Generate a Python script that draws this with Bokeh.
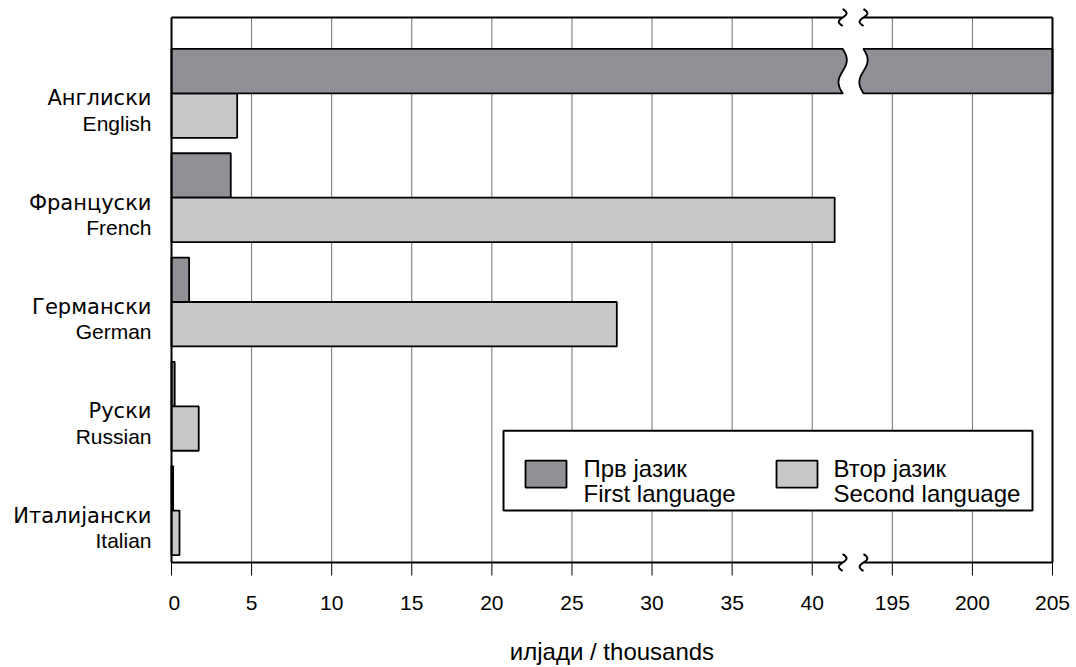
import numpy as np
from bokeh.plotting import figure
from bokeh.layouts import row
from bokeh.models import Range1d, FixedTicker
from bokeh.embed import file_html
from bokeh.resources import INLINE
from bokeh.core.properties import value

# ---------------- data ----------------
languages_mk = ["Англиски", "Француски", "Германски", "Руски", "Италијански"]
languages_en = ["English", "French", "German", "Russian", "Italian"]
first_language = [205, 3.7, 1.1, 0.2, 0.1]      # thousands
second_language = [4.1, 41.4, 27.8, 1.7, 0.5]   # thousands
tick_values = [0, 5, 10, 15, 20, 25, 30, 35, 40, 195, 200, 205]
legend_mk = ["Прв јазик", "Втор јазик"]
legend_en = ["First language", "Second language"]
axis_title = "илјади / thousands"

# ---------------- broken axis ----------------
BREAK_AT = 42.5
BREAK_SHIFT = 150.0
def disp(v):
    return v if v <= BREAK_AT else v - BREAK_SHIFT

FONT = "Liberation Sans"
CYR_FONT = "DejaVu Sans"
DARK = "#909196"
LIGHT = "#c7c8ca"

W, H = 1070, 667
LW = 168                                    # width of label column
FL, FR, FT, FB = 171, 1052, 17, 563         # drawn frame (page px)
RL, RR, RT, RB = 168, 1055, 6, 578          # real bokeh frame (page px)
XMAX = disp(tick_values[-1])
PX = (FR - FL) / XMAX
PY = 104.5
Y0 = 511                                    # page px of last category
def dx(c):
    return (c - FL) / PX
def dy(c):
    return (Y0 - c) / PY

yr = Range1d(dy(RB), dy(RT))

p = figure(width=W - LW, height=H, output_backend="svg", toolbar_location=None,
           y_axis_location=None,
           x_range=Range1d(dx(RL), dx(RR)), y_range=yr,
           min_border_left=0, min_border_right=W - RR, min_border_top=RT,
           min_border_bottom=H - RB)
p.outline_line_color = None
p.grid.visible = False
p.background_fill_color = "white"
p.border_fill_color = "white"

n = len(languages_mk)
cats = [n - 1 - i for i in range(n)]
BH = 0.426
yt, yb = dy(FT), dy(FB)

# grid lines
tick_disp = [disp(t) for t in tick_values]
grid_x = [t for t in tick_disp if 0 < t < XMAX]
p.segment(x0=grid_x, y0=[yb] * len(grid_x), x1=grid_x, y1=[yt] * len(grid_x),
          line_color="#6f6f6f", line_width=1)

# bars
lo, hi = 41.9, 43.2
def wave(xc, ytop, h, amp, npts=40):
    u = np.linspace(0, 1, npts)
    return list(xc + amp * np.sin(2 * np.pi * u)), list(ytop - u * h)

normal = dict(left=[], right=[], y=[], color=[])
broken_xs, broken_ys, broken_col = [], [], []
for c, f, s in zip(cats, first_language, second_language):
    for val, yc, col in ((f, c + BH / 2, DARK), (s, c - BH / 2, LIGHT)):
        d = disp(val)
        if val > BREAK_AT:
            ytop = yc + BH / 2
            wx, wy = wave(lo, ytop, BH, 0.26)
            broken_xs.append([0, 0] + wx + [0])
            broken_ys.append([ytop - BH, ytop] + wy + [ytop - BH])
            wx2, wy2 = wave(hi, ytop, BH, 0.26)
            broken_xs.append(wx2 + [d, d])
            broken_ys.append(wy2 + [ytop - BH, ytop])
            broken_col += [col, col]
        else:
            normal["left"].append(0)
            normal["right"].append(d)
            normal["y"].append(yc)
            normal["color"].append(col)

p.hbar(y=normal["y"], left=normal["left"], right=normal["right"], height=BH,
       fill_color=normal["color"], line_color="black", line_width=1.8)
p.patches(xs=broken_xs, ys=broken_ys, fill_color=broken_col,
          line_color="black", line_width=1.8, line_join="round")

# frame with breaks
fx = [[0, 0], [XMAX, XMAX], [0, lo], [hi, XMAX], [0, lo], [hi, XMAX]]
fy = [[yb, yt], [yb, yt], [yt, yt], [yt, yt], [yb, yb], [yb, yb]]
th = 17 / PY
for yy in (yt, yb):
    for xc in (lo, hi):
        wx, wy = wave(xc, yy + th / 2, th, 0.24)
        fx.append(wx)
        fy.append(wy)
p.multi_line(xs=fx, ys=fy, line_color="black", line_width=2)

# ticks (outward, below)
p.segment(x0=tick_disp, y0=[yb] * len(tick_disp), x1=tick_disp,
          y1=[yb - 13 / PY] * len(tick_disp), line_color="black", line_width=1)

# legend
p.quad(left=[dx(503)], right=[dx(1032)], top=[dy(431)], bottom=[dy(511)],
       fill_color="white", line_color="black", line_width=2)
sw_left = [dx(525), dx(776)]
p.quad(left=sw_left, right=[v + 41 / PX for v in sw_left], top=[dy(461)] * 2,
       bottom=[dy(488)] * 2, fill_color=[DARK, LIGHT], line_color="black", line_width=1.8)
tx = [dx(583), dx(833)]
p.text(x=tx + tx, y=[dy(469)] * 2 + [dy(494)] * 2, text=legend_mk + legend_en,
       text_font=value(FONT), text_font_size="24px", text_baseline="alphabetic",
       text_align="left", text_color="black")

# x axis (labels only)
p.xaxis.ticker = FixedTicker(ticks=tick_disp)
p.xaxis.major_label_overrides = {t: str(v) for t, v in zip(tick_disp, tick_values)}
ax = p.xaxis[0]
ax.axis_line_color = None
ax.major_tick_line_color = None
ax.minor_tick_line_color = None
ax.major_tick_out = 0
ax.major_tick_in = 0
ax.major_label_text_font = FONT
ax.major_label_text_font_size = "21px"
ax.major_label_text_color = "black"
ax.major_label_standoff = 18
ax.axis_label = axis_title
ax.axis_label_text_font = FONT
ax.axis_label_text_font_size = "24px"
ax.axis_label_text_font_style = "normal"
ax.axis_label_text_color = "black"
ax.axis_label_standoff = 25

# ---------------- category label column ----------------
q = figure(width=LW, height=H, output_backend="svg", toolbar_location=None,
           x_axis_location=None, y_axis_location=None,
           x_range=Range1d(0, LW), y_range=yr,
           min_border_left=0, min_border_right=0, min_border_top=RT,
           min_border_bottom=H - RB)
q.outline_line_color = None
q.grid.visible = False
q.border_fill_color = "white"
q.background_fill_color = "white"

cat_px = [Y0 - c * PY for c in cats]
q.text(x=[151] * n, y=[dy(v + 5) for v in cat_px], text=languages_mk,
       text_font=value(CYR_FONT), text_font_size="21px", text_align="right",
       text_baseline="alphabetic", text_color="black")
q.text(x=[151] * n, y=[dy(v + 30) for v in cat_px], text=languages_en,
       text_font=value(FONT), text_font_size="21px", text_align="right",
       text_baseline="alphabetic", text_color="black")

layout = row(q, p, spacing=0)
open("out.html", "w").write(file_html(layout, INLINE))
